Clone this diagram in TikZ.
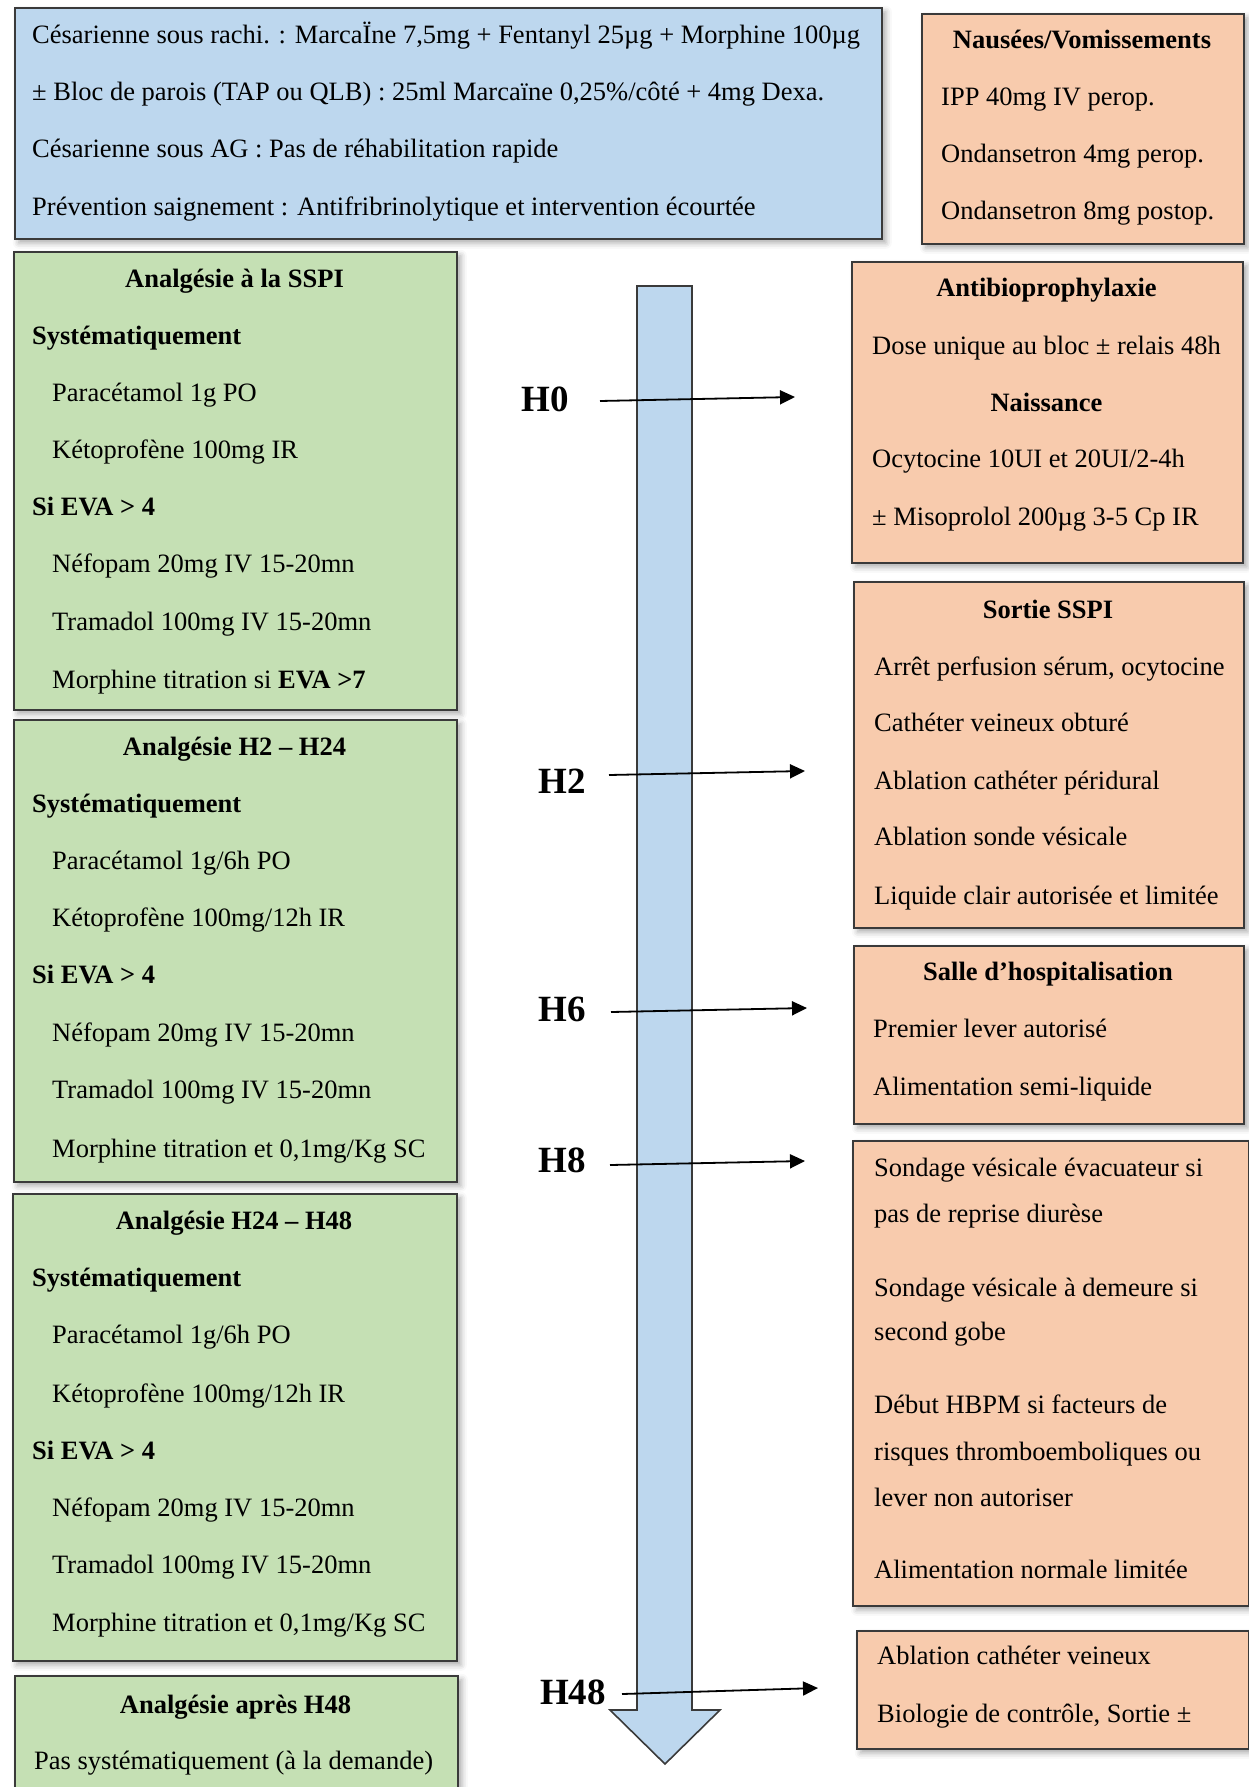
\documentclass[tikz,border=0pt]{standalone}
\usepackage{fontspec}
\setmainfont{Liberation Serif}
\usetikzlibrary{arrows.meta,shadows.blur}
\definecolor{bluefill}{HTML}{BDD7EE}
\definecolor{greenfill}{HTML}{C5E0B4}
\definecolor{orangefill}{HTML}{F8CBAD}
\definecolor{edgecol}{HTML}{3A3A3A}
\tikzset{
  panel/.style={draw=edgecol, line width=1.6pt, anchor=north west, inner sep=0pt,
    blur shadow={shadow xshift=4pt, shadow yshift=-4pt, shadow blur radius=6pt, shadow opacity=35}},
  bluepanel/.style={panel, fill=bluefill},
  greenpanel/.style={panel, fill=greenfill},
  orangepanel/.style={panel, fill=orangefill},
  txt/.style={anchor=west, inner sep=0pt, yshift=-7pt, text height=0.75em, text depth=0.2em, font=\fontsize{26.5}{30}\selectfont},
  btxt/.style={txt, font=\fontsize{26.5}{30}\selectfont\bfseries},
  ttl/.style={anchor=center, inner sep=0pt, yshift=-7pt, text height=0.75em, text depth=0.2em, font=\fontsize{26.5}{30}\selectfont\bfseries},
  hlab/.style={inner sep=0pt, font=\fontsize{37}{40}\selectfont\bfseries},
  tl/.style={line width=1.8pt, -{Triangle[length=15pt,width=14pt]}},
}
\begin{document}
\begin{tikzpicture}[x=1pt,y=-1pt]
\useasboundingbox (0,0) rectangle (1249,1787);
\clip (0,0) rectangle (1249,1787);
% panels
\node[bluepanel, minimum width=867pt, minimum height=231pt] (blue) at (14,7) {};
\node[orangepanel, minimum width=322pt, minimum height=230pt] (naus) at (921,13) {};
\node[greenpanel, minimum width=443pt, minimum height=458pt] (g1) at (13,251) {};
\node[greenpanel, minimum width=443pt, minimum height=462pt] (g2) at (13,719) {};
\node[greenpanel, minimum width=444pt, minimum height=467pt] (g3) at (12,1193) {};
\node[greenpanel, minimum width=443pt, minimum height=125pt] (g4) at (14,1675) {};
\node[orangepanel, minimum width=391pt, minimum height=301pt] (anti) at (851,261) {};
\node[orangepanel, minimum width=390pt, minimum height=346pt] (sortie) at (853,581) {};
\node[orangepanel, minimum width=390pt, minimum height=178pt] (salle) at (853,945) {};
\node[orangepanel, minimum width=396pt, minimum height=465pt] (sond) at (852,1140) {};
\node[orangepanel, minimum width=392pt, minimum height=118pt] (last) at (856,1630) {};
% big arrow
\draw[draw=edgecol, line width=1.6pt, fill=bluefill, line join=miter]
  (637,286) -- (692,286) -- (692,1710) -- (720,1710) -- (665,1764) -- (610,1710) -- (637,1710) -- cycle;
% blue box text
\node[txt] (b1) at (32,34) {Césarienne sous rachi. : MarcaÏne 7,5mg + Fentanyl 25µg + Morphine 100µg};
\node[txt] (b2) at (32,91) {± Bloc de parois (TAP ou QLB) : 25ml Marcaïne 0,25\%/côté + 4mg Dexa.};
\node[txt] (b3) at (32,148) {Césarienne sous AG : Pas de réhabilitation rapide};
\node[txt] (b4) at (32,206) {Prévention saignement : Antifribrinolytique et intervention écourtée};
% nausees
\node[ttl] (n0) at (1082,39) {Nausées/Vomissements};
\node[txt] (n1) at (941,96) {IPP 40mg IV perop.};
\node[txt] (n2) at (941,153) {Ondansetron 4mg perop.};
\node[txt] (n3) at (941,210) {Ondansetron 8mg postop.};
% green 1
\node[ttl] (g1t) at (234.5,278) {Analgésie à la SSPI};
\node[btxt] (g1a) at (32,335) {Systématiquement};
\node[txt] (g1b) at (52,392) {Paracétamol 1g PO};
\node[txt] (g1c) at (52,449) {Kétoprofène 100mg IR};
\node[btxt] (g1d) at (32,506) {Si EVA > 4};
\node[txt] (g1e) at (52,563) {Néfopam 20mg IV 15-20mn};
\node[txt] (g1f) at (52,621) {Tramadol 100mg IV 15-20mn};
\node[txt] (g1g) at (52,679) {Morphine titration si \textbf{EVA >7}};
% green 2
\node[ttl] (g2t) at (234.5,746) {Analgésie H2 – H24};
\node[btxt] (g2a) at (32,803) {Systématiquement};
\node[txt] (g2b) at (52,860) {Paracétamol 1g/6h PO};
\node[txt] (g2c) at (52,917) {Kétoprofène 100mg/12h IR};
\node[btxt] (g2d) at (32,974) {Si EVA > 4};
\node[txt] (g2e) at (52,1032) {Néfopam 20mg IV 15-20mn};
\node[txt] (g2f) at (52,1089) {Tramadol 100mg IV 15-20mn};
\node[txt] (g2g) at (52,1148) {Morphine titration et 0,1mg/Kg SC};
% green 3
\node[ttl] (g3t) at (234,1220) {Analgésie H24 – H48};
\node[btxt] (g3a) at (32,1277) {Systématiquement};
\node[txt] (g3b) at (52,1334) {Paracétamol 1g/6h PO};
\node[txt] (g3c) at (52,1393) {Kétoprofène 100mg/12h IR};
\node[btxt] (g3d) at (32,1450) {Si EVA > 4};
\node[txt] (g3e) at (52,1507) {Néfopam 20mg IV 15-20mn};
\node[txt] (g3f) at (52,1564) {Tramadol 100mg IV 15-20mn};
\node[txt] (g3g) at (52,1622) {Morphine titration et 0,1mg/Kg SC};
% green 4
\node[ttl] (g4t) at (235.5,1704) {Analgésie après H48};
\node[txt] (g4a) at (34,1760) {Pas systématiquement (à la demande)};
% antibio
\node[ttl] (a0) at (1046.5,287) {Antibioprophylaxie};
\node[txt] (a1) at (872,345) {Dose unique au bloc ± relais 48h};
\node[ttl] (a2) at (1046.5,402) {Naissance};
\node[txt] (a3) at (872,458) {Ocytocine 10UI et 20UI/2-4h};
\node[txt] (a4) at (872,516) {± Misoprolol 200µg 3-5 Cp IR};
% sortie
\node[ttl] (s0) at (1048,609) {Sortie SSPI};
\node[txt] (s1) at (874,666) {Arrêt perfusion sérum, ocytocine};
\node[txt] (s2) at (874,722) {Cathéter veineux obturé};
\node[txt] (s3) at (874,780) {Ablation cathéter péridural};
\node[txt] (s4) at (874,836) {Ablation sonde vésicale};
\node[txt] (s5) at (874,895) {Liquide clair autorisée et limitée};
% salle
\node[ttl] (h0) at (1048,971) {Salle d’hospitalisation};
\node[txt] (h1) at (873,1028) {Premier lever autorisé};
\node[txt] (h2) at (873,1086) {Alimentation semi-liquide};
% sondage
\node[txt] (d1) at (874,1167) {Sondage vésicale évacuateur si};
\node[txt] (d2) at (874,1213) {pas de reprise diurèse};
\node[txt] (d3) at (874,1287) {Sondage vésicale à demeure si};
\node[txt] (d4) at (874,1331) {second gobe};
\node[txt] (d5) at (874,1404) {Début HBPM si facteurs de};
\node[txt] (d6) at (874,1451) {risques thromboemboliques ou};
\node[txt] (d7) at (874,1497) {lever non autoriser};
\node[txt] (d8) at (874,1569) {Alimentation normale limitée};
% last
\node[txt] (l1) at (877,1655) {Ablation cathéter veineux};
\node[txt] (l2) at (877,1713) {Biologie de contrôle, Sortie ±};
% H labels
\node[hlab] (H0) at (545,399) {H0};
\node[hlab] (H2) at (562,781) {H2};
\node[hlab] (H6) at (562,1009) {H6};
\node[hlab] (H8) at (562,1160) {H8};
\node[hlab] (H48) at (573,1692) {H48};
% arrow coordinates
\coordinate (h0s) at (600,401); \coordinate (h0e) at (795,397);
\coordinate (h2s) at (609,775); \coordinate (h2e) at (805,771);
\coordinate (h6s) at (611,1012); \coordinate (h6e) at (807,1008);
\coordinate (h8s) at (610,1165); \coordinate (h8e) at (805,1161);
\coordinate (h48s) at (622,1694); \coordinate (h48e) at (818,1688);
\draw[tl] (h0s) -- (h0e);
\draw[tl] (h2s) -- (h2e);
\draw[tl] (h6s) -- (h6e);
\draw[tl] (h8s) -- (h8e);
\draw[tl] (h48s) -- (h48e);
\end{tikzpicture}
\end{document}
